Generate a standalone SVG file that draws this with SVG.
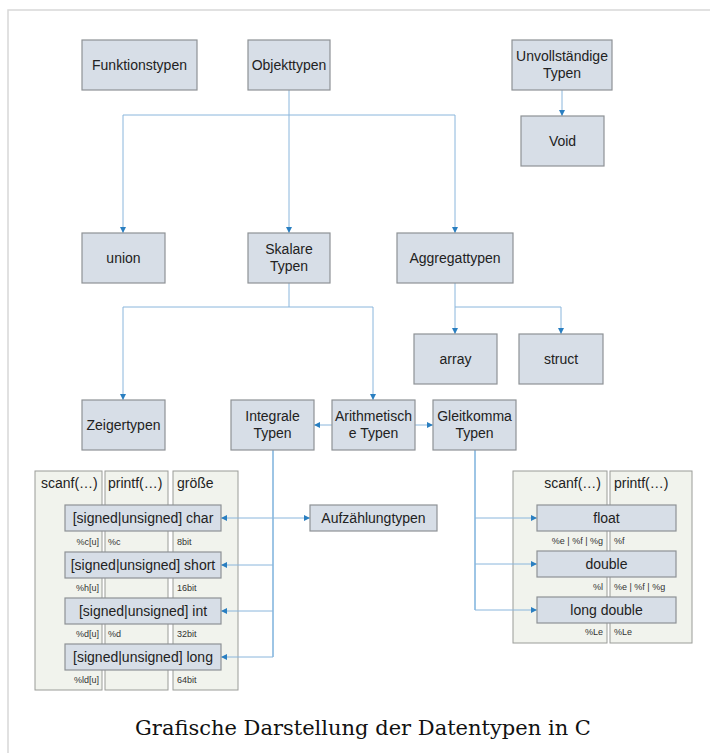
<svg xmlns="http://www.w3.org/2000/svg" width="710" height="753" viewBox="0 0 710 753">
<style>
.bg{fill:#ffffff}
.frame{stroke:#d8d8d8;stroke-width:1.5;fill:none}
.node{fill:#d7dee7;stroke:#8e9296;stroke-width:1.2}
.panel{fill:#f1f3ed;stroke:#9a9c98;stroke-width:1}
.t{font-family:"Liberation Sans",Arial,sans-serif;font-size:14px;fill:#222;text-anchor:middle}
.h{font-family:"Liberation Sans",Arial,sans-serif;font-size:14px;fill:#222}
.s{font-family:"Liberation Sans",Arial,sans-serif;font-size:9px;fill:#333}
.c{stroke:#8ab6dc;stroke-width:1;fill:none}
.cd{stroke:#3d8bcb;stroke-width:1;fill:none}
.cap{font-family:"DejaVu Serif","Liberation Serif",serif;font-size:21px;fill:#111;text-anchor:middle}
</style>
<rect class="bg" x="0" y="0" width="710" height="753"/>
<path class="frame" d="M8,753 L8,10 L710,10"/>

<g id="panels">
<rect class="panel" x="35" y="471" width="67" height="219"/>
<rect class="panel" x="105" y="471" width="63" height="219"/>
<rect class="panel" x="173" y="471" width="65" height="219"/>
<rect class="panel" x="513" y="471" width="94" height="172"/>
<rect class="panel" x="610" y="471" width="82" height="172"/>
<text class="h" x="41" y="488">scanf(…)</text>
<text class="h" x="108" y="488">printf(…)</text>
<text class="h" x="177" y="488">größe</text>
<text class="h" x="601" y="488" text-anchor="end">scanf(…)</text>
<text class="h" x="614" y="488">printf(…)</text>
</g>

<g id="connectors">
<path class="c" d="M289,90 L289,233"/>
<path class="c" d="M123,233 L123,115 L455,115 L455,233"/>
<path class="c" d="M562,90 L562,116"/>
<path class="c" d="M289,283 L289,307"/>
<path class="c" d="M123,400 L123,307 L373,307 L373,400"/>
<path class="c" d="M455,283 L455,334"/>
<path class="c" d="M455,307 L561,307 L561,334"/>
<path class="c" d="M332,425 L314,425"/>
<path class="c" d="M415,425 L433,425"/>
<path class="cd" d="M273,450 L273,657"/>
<path class="c" d="M273,518 L221,518"/>
<path class="c" d="M273,518 L310,518"/>
<path class="c" d="M273,565 L221,565"/>
<path class="c" d="M273,611 L221,611"/>
<path class="c" d="M273,657 L221,657"/>
<path class="cd" d="M475,450 L475,610"/>
<path class="c" d="M475,518 L537,518"/>
<path class="c" d="M475,564 L537,564"/>
<path class="c" d="M475,610 L537,610"/>
<g fill="#2a7fc1">
<path d="M120,227 L126,227 L123,233 z"/>
<path d="M286,227 L292,227 L289,233 z"/>
<path d="M452,227 L458,227 L455,233 z"/>
<path d="M559,110 L565,110 L562,116 z"/>
<path d="M120,394 L126,394 L123,400 z"/>
<path d="M370,394 L376,394 L373,400 z"/>
<path d="M452,328 L458,328 L455,334 z"/>
<path d="M558,328 L564,328 L561,334 z"/>
<path d="M320,422 L320,428 L314,425 z"/>
<path d="M427,422 L427,428 L433,425 z"/>
<path d="M227,515 L227,521 L221,518 z"/>
<path d="M304,515 L304,521 L310,518 z"/>
<path d="M227,562 L227,568 L221,565 z"/>
<path d="M227,608 L227,614 L221,611 z"/>
<path d="M227,654 L227,660 L221,657 z"/>
<path d="M531,515 L531,521 L537,518 z"/>
<path d="M531,561 L531,567 L537,564 z"/>
<path d="M531,607 L531,613 L537,610 z"/>
</g>
</g>

<g id="funktionstypen"><rect class="node" x="82" y="40" width="115" height="50"/><text class="t" x="139.5" y="70">Funktionstypen</text></g>
<g id="objekttypen"><rect class="node" x="248" y="40" width="82" height="50"/><text class="t" x="289" y="70">Objekttypen</text></g>
<g id="unvollstaendige"><rect class="node" x="512" y="40" width="100" height="50"/><text class="t" x="562" y="61">Unvollständige</text><text class="t" x="562" y="78">Typen</text></g>
<g id="void"><rect class="node" x="521" y="116" width="83" height="50"/><text class="t" x="562.5" y="146">Void</text></g>
<g id="union"><rect class="node" x="82" y="233" width="83" height="50"/><text class="t" x="123.5" y="263">union</text></g>
<g id="skalare"><rect class="node" x="248" y="233" width="82" height="50"/><text class="t" x="289" y="254">Skalare</text><text class="t" x="289" y="271">Typen</text></g>
<g id="aggregattypen"><rect class="node" x="397" y="233" width="116" height="50"/><text class="t" x="455" y="263">Aggregattypen</text></g>
<g id="array"><rect class="node" x="414" y="334" width="83" height="50"/><text class="t" x="455.5" y="364">array</text></g>
<g id="struct"><rect class="node" x="519" y="334" width="84" height="50"/><text class="t" x="561" y="364">struct</text></g>
<g id="zeigertypen"><rect class="node" x="82" y="400" width="83" height="50"/><text class="t" x="123.5" y="430">Zeigertypen</text></g>
<g id="integrale"><rect class="node" x="231" y="400" width="83" height="50"/><text class="t" x="272.5" y="421">Integrale</text><text class="t" x="272.5" y="438">Typen</text></g>
<g id="arithmetische"><rect class="node" x="332" y="400" width="83" height="50"/><text class="t" x="373.5" y="421">Arithmetisch</text><text class="t" x="373.5" y="438">e Typen</text></g>
<g id="gleitkomma"><rect class="node" x="433" y="400" width="83" height="50"/><text class="t" x="474.5" y="421">Gleitkomma</text><text class="t" x="474.5" y="438">Typen</text></g>
<g id="aufzaehlung"><rect class="node" x="310" y="505" width="127" height="26"/><text class="t" x="373.5" y="523">Aufzählungtypen</text></g>

<g id="char"><rect class="node" x="65" y="505" width="156" height="26"/><text class="t" x="143" y="523">[signed|unsigned] char</text></g>
<g id="short"><rect class="node" x="65" y="552" width="156" height="26"/><text class="t" x="143" y="570">[signed|unsigned] short</text></g>
<g id="int"><rect class="node" x="65" y="598" width="156" height="26"/><text class="t" x="143" y="616">[signed|unsigned] int</text></g>
<g id="long"><rect class="node" x="65" y="644" width="156" height="26"/><text class="t" x="143" y="662">[signed|unsigned] long</text></g>
<g id="float"><rect class="node" x="537" y="505" width="139" height="26"/><text class="t" x="606.5" y="523">float</text></g>
<g id="double"><rect class="node" x="537" y="551" width="139" height="26"/><text class="t" x="606.5" y="569">double</text></g>
<g id="longdouble"><rect class="node" x="537" y="597" width="139" height="26"/><text class="t" x="606.5" y="615">long double</text></g>

<g id="labels">
<text class="s" x="99" y="545" text-anchor="end">%c[u]</text>
<text class="s" x="108" y="545">%c</text>
<text class="s" x="177" y="545">8bit</text>
<text class="s" x="99" y="591" text-anchor="end">%h[u]</text>
<text class="s" x="177" y="591">16bit</text>
<text class="s" x="99" y="637" text-anchor="end">%d[u]</text>
<text class="s" x="108" y="637">%d</text>
<text class="s" x="177" y="637">32bit</text>
<text class="s" x="99" y="683" text-anchor="end">%ld[u]</text>
<text class="s" x="177" y="683">64bit</text>
<text class="s" x="603" y="544" text-anchor="end">%e | %f | %g</text>
<text class="s" x="614" y="544">%f</text>
<text class="s" x="603" y="590" text-anchor="end">%l</text>
<text class="s" x="614" y="590">%e | %f | %g</text>
<text class="s" x="603" y="635" text-anchor="end">%Le</text>
<text class="s" x="614" y="635">%Le</text>
</g>

<text class="cap" x="363" y="735">Grafische Darstellung der Datentypen in C</text>
</svg>
